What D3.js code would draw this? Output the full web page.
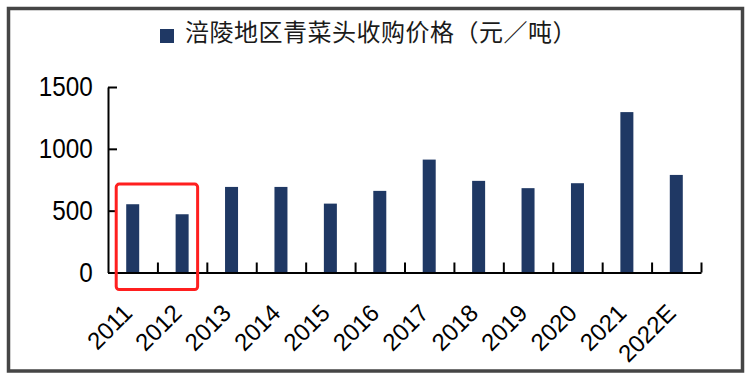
<!DOCTYPE html>
<html>
<head>
<meta charset="utf-8">
<script src="https://cdn.jsdelivr.net/npm/d3@7"></script>
<style>
  html, body { margin: 0; padding: 0; background: #fff; }
  svg { display: block; }
</style>
</head>
<body>
<svg id="chart"></svg>
<script>
const years = ["2011", "2012", "2013", "2014", "2015", "2016", "2017", "2018", "2019", "2020", "2021", "2022E"];
const prices = [552, 471, 692, 692, 557, 660, 913, 741, 682, 722, 1297, 789];
const yTicks = [0, 500, 1000, 1500];
const legendLabel = "涪陵地区青菜头收购价格（元／吨）";

document.addEventListener("DOMContentLoaded", function () {
  const w = 749;
  const h = 386;
  const left = 108;
  const right = 701;
  const top = 87;
  const bottom = 272.5;
  const barColor = "#1f3864";

  const svg = d3.select("#chart").attr("width", w).attr("height", h);

  // outer frame
  svg
    .append("rect")
    .attr("x", 8.5)
    .attr("y", 8.5)
    .attr("width", 734)
    .attr("height", 362.5)
    .attr("fill", "#fff")
    .attr("stroke", "#454545")
    .attr("stroke-width", 3.5);

  const xScale = d3.scaleBand().domain(years).range([left, right]).paddingInner(0.737).paddingOuter(0.3685);

  const yScale = d3.scaleLinear().domain([0, 1500]).range([bottom, top]);

  // bars
  svg
    .selectAll(".bar")
    .data(prices)
    .enter()
    .append("rect")
    .attr("class", "bar")
    .attr("x", (d, i) => xScale(years[i]))
    .attr("y", (d) => yScale(d))
    .attr("width", xScale.bandwidth())
    .attr("height", (d) => yScale(0) - yScale(d))
    .attr("fill", barColor);

  // y axis, ticks pointing inward
  const yAxis = d3
    .axisLeft(yScale)
    .tickValues(yTicks)
    .tickFormat(d3.format("d"))
    .tickSize(-9)
    .tickSizeOuter(0)
    .tickPadding(17);
  const gy = svg.append("g").attr("transform", `translate(${left}, 0)`).call(yAxis);
  gy.select(".domain").attr("stroke", "#000").attr("stroke-width", 2);
  gy.selectAll(".tick line").attr("stroke", "#000").attr("stroke-width", 2);
  gy.selectAll(".tick text")
    .attr("fill", "#000")
    .style("font-family", "'Liberation Sans', Arial, sans-serif")
    .style("font-size", "27px")
    .attr("transform", "scale(0.9,1)");

  // x axis line with ticks on the category boundaries
  const edge = d3.scaleLinear().domain([0, years.length]).range([left, right]);
  const xEdges = d3.axisBottom(edge).tickValues(d3.range(1, years.length + 1)).tickSize(-10).tickSizeOuter(0).tickFormat("");
  const gx = svg.append("g").attr("transform", `translate(0, ${bottom})`).call(xEdges);
  gx.select(".domain").attr("stroke", "#000").attr("stroke-width", 2);
  gx.selectAll(".tick line").attr("stroke", "#000").attr("stroke-width", 2);

  // rotated category labels
  const xLabels = d3.axisBottom(xScale).tickSize(0).tickPadding(0);
  const gl = svg.append("g").attr("transform", `translate(0, ${bottom})`).call(xLabels);
  gl.select(".domain").remove();
  gl.selectAll(".tick text")
    .attr("fill", "#000")
    .style("font-family", "'Liberation Sans', Arial, sans-serif")
    .style("font-size", "24px")
    .attr("text-anchor", "end")
    .attr("dy", null)
    .attr("y", 0)
    .attr("transform", "translate(1, 42) rotate(-45)");

  // legend
  svg
    .append("rect")
    .attr("x", 160)
    .attr("y", 29)
    .attr("width", 14)
    .attr("height", 14)
    .attr("fill", barColor);
  svg
    .append("text")
    .attr("x", 185)
    .attr("y", 41)
    .attr("fill", "#1a1a1a")
    .style("font-family", "'Noto Sans CJK SC', sans-serif")
    .style("font-size", "24px")
    .style("letter-spacing", "0.5px")
    .text(legendLabel);

  // red highlight box around 2011-2012
  svg
    .append("rect")
    .attr("x", xScale(years[0]) - 10)
    .attr("y", yScale(715))
    .attr("width", xScale(years[1]) + xScale.bandwidth() + 9 - (xScale(years[0]) - 10))
    .attr("height", yScale(0) + 17 - yScale(715))
    .attr("rx", 3)
    .attr("fill", "none")
    .attr("stroke", "#ff1f1f")
    .attr("stroke-width", 3);
});
</script>
</body>
</html>
